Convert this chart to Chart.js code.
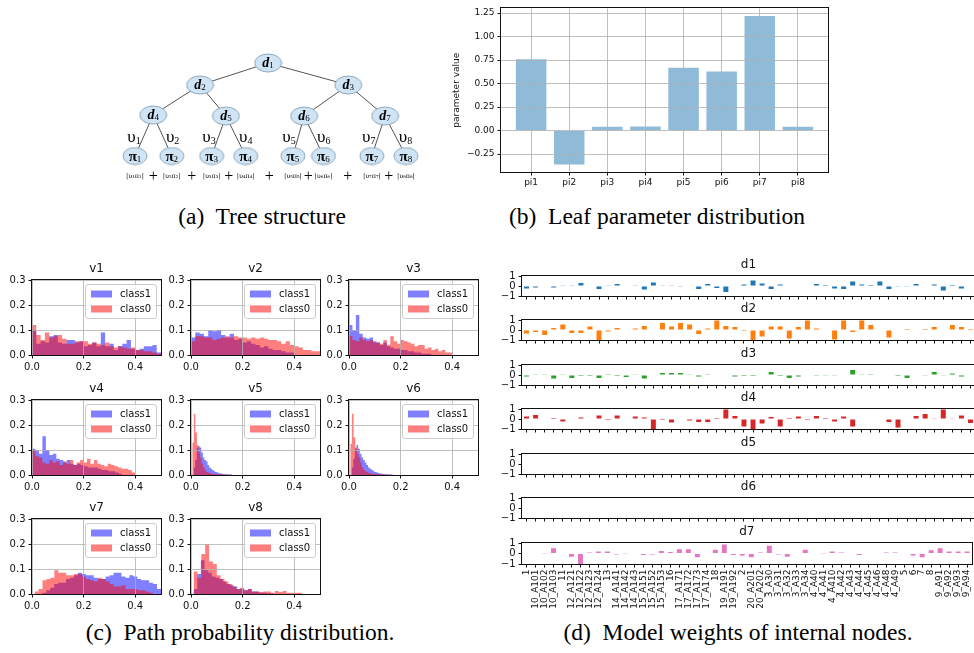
<!DOCTYPE html>
<html>
<head>
<meta charset="utf-8">
<script src="https://cdn.jsdelivr.net/npm/chart.js@4.4.1/dist/chart.umd.min.js"></script>
<style>
  html, body { margin: 0; padding: 0; background: #fff; }
  #page { position: relative; width: 974px; height: 653px; overflow: hidden; background: #fff; }
  .caption { position: absolute; font-family: "Liberation Serif", serif; font-size: 23.5px; line-height: 26px;
             color: #000; white-space: nowrap; transform: translateX(-50%); }
</style>
</head>
<body>
<div id="page">
  <div class="caption" style="left:262px; top:203px">(a)&nbsp; Tree structure</div>
  <div class="caption" style="left:657px; top:203px">(b)&nbsp; Leaf parameter distribution</div>
  <div class="caption" style="left:240px; top:619px">(c)&nbsp; Path probability distribution.</div>
  <div class="caption" style="left:738px; top:619px">(d)&nbsp; Model weights of internal nodes.</div>
</div>
<script>
// ---------- (a) tree ----------
const treeLabels = ['d1', 'd2', 'd3', 'd4', 'd5', 'd6', 'd7', 'π1', 'π2', 'π3', 'π4', 'π5', 'π6', 'π7', 'π8']
const treeX = [3.44, 1.68, 5.51, 0.47, 2.35, 4.37, 6.46, 0, 0.95, 1.98, 2.86, 4.08, 4.87, 6.12, 7.0]
const treeY = [93, 71, 71, 41, 40, 40, 40, 0, 0, 0, 0, 0, 0, 0, 0]
const treeParent = [-1, 0, 0, 1, 1, 2, 2, 3, 3, 4, 4, 5, 5, 6, 6]
const pathTerms = ['|υ₁π₁|', '|υ₂π₂|', '|υ₃π₃|', '|υ₄π₄|', '|υ₅π₅|', '|υ₆π₆|', '|υ₇π₇|', '|υ₈π₈|']

// ---------- (b) leaf parameters ----------
const leafLabels = ['pi1', 'pi2', 'pi3', 'pi4', 'pi5', 'pi6', 'pi7', 'pi8']
const leafValues = [0.76, -0.36, 0.04, 0.045, 0.67, 0.63, 1.22, 0.04]

// ---------- (c) path probability histograms ----------
const histNames = ['v1', 'v2', 'v3', 'v4', 'v5', 'v6', 'v7', 'v8']
const v1_class1 = [0.10, 0.045, 0.055, 0.05, 0.075, 0.08, 0.05, 0.045, 0.06, 0.06, 0.05, 0.055, 0.035, 0.04, 0.05, 0.035, 0.09, 0.035, 0.045, 0.02, 0.035, 0.045, 0.06, 0.025, 0.02, 0.025, 0.035, 0.035, 0.04, 0.01]
const v1_class0 = [0.12, 0.08, 0.06, 0.09, 0.07, 0.075, 0.08, 0.065, 0.045, 0.045, 0.055, 0.055, 0.055, 0.045, 0.05, 0.045, 0.04, 0.05, 0.035, 0.03, 0.035, 0.03, 0.025, 0.03, 0.02, 0.02, 0.015, 0.015, 0.01, 0.005]
const v1_range1 = [0.0, 0.5], v1_range0 = [0.0, 0.5]
const v2_class1 = [0.07, 0.09, 0.085, 0.075, 0.1, 0.095, 0.1, 0.08, 0.07, 0.085, 0.06, 0.065, 0.05, 0.055, 0.045, 0.04, 0.03, 0.035, 0.025, 0.02, 0.02, 0.015, 0.01, 0.01]
const v2_class0 = [0.055, 0.075, 0.075, 0.07, 0.07, 0.06, 0.065, 0.07, 0.075, 0.07, 0.075, 0.07, 0.07, 0.065, 0.07, 0.065, 0.07, 0.065, 0.06, 0.06, 0.055, 0.045, 0.055, 0.04, 0.035, 0.03, 0.02, 0.02, 0.015, 0.015]
const v2_range1 = [0.0, 0.4], v2_range0 = [0.0, 0.5]
const v3_class1 = [0.12, 0.1, 0.16, 0.085, 0.07, 0.065, 0.07, 0.055, 0.05, 0.04, 0.05, 0.035, 0.03, 0.025, 0.025, 0.02, 0.02, 0.015, 0.015, 0.01, 0.01, 0.005, 0.005, 0.005]
const v3_class0 = [0.075, 0.06, 0.055, 0.07, 0.06, 0.055, 0.06, 0.05, 0.05, 0.045, 0.06, 0.04, 0.075, 0.055, 0.045, 0.06, 0.055, 0.05, 0.045, 0.035, 0.04, 0.04, 0.025, 0.03, 0.02, 0.025, 0.015, 0.02, 0.01, 0.01]
const v3_range1 = [0.0, 0.32], v3_range0 = [0.0, 0.4]
const v4_class1 = [0.105, 0.1, 0.085, 0.155, 0.1, 0.08, 0.085, 0.065, 0.06, 0.05, 0.06, 0.045, 0.04, 0.045, 0.04, 0.035, 0.03, 0.03, 0.03, 0.025, 0.02, 0.02, 0.015, 0.015, 0.01, 0.005]
const v4_class0 = [0.1, 0.075, 0.07, 0.05, 0.045, 0.06, 0.05, 0.055, 0.04, 0.055, 0.045, 0.06, 0.04, 0.05, 0.06, 0.05, 0.065, 0.045, 0.06, 0.045, 0.04, 0.035, 0.045, 0.04, 0.035, 0.03, 0.025, 0.025, 0.02, 0.01]
const v4_range1 = [0.0, 0.35], v4_range0 = [0.0, 0.4]
const v5_class1 = [0.03, 0.06, 0.11, 0.115, 0.11, 0.09, 0.07, 0.06, 0.055, 0.04, 0.03, 0.025, 0.02, 0.015, 0.012, 0.01, 0.008, 0.006, 0.005, 0.004, 0.003, 0.003, 0.002, 0.002, 0.002]
const v5_class0 = [0.13, 0.245, 0.17, 0.12, 0.09, 0.07, 0.045, 0.03, 0.02, 0.012, 0.01, 0.008, 0.005, 0.005, 0.004, 0.003, 0.003, 0.002, 0.003, 0.002, 0.001, 0.002, 0.001, 0.001, 0.002]
const v5_range1 = [0.01, 0.16], v5_range0 = [0.005, 0.155]
const v6_class1 = [0.03, 0.065, 0.105, 0.12, 0.105, 0.085, 0.07, 0.06, 0.05, 0.04, 0.03, 0.025, 0.02, 0.015, 0.012, 0.01, 0.008, 0.006, 0.005, 0.004, 0.003, 0.003, 0.002, 0.002, 0.002]
const v6_class0 = [0.125, 0.245, 0.15, 0.11, 0.085, 0.07, 0.05, 0.03, 0.02, 0.015, 0.012, 0.008, 0.006, 0.005, 0.004, 0.004, 0.003, 0.003, 0.002, 0.002, 0.002, 0.001, 0.001, 0.001, 0.002]
const v6_range1 = [0.01, 0.17], v6_range0 = [0.005, 0.165]
const v7_class1 = [0.005, 0.015, 0.025, 0.04, 0.045, 0.045, 0.06, 0.065, 0.075, 0.085, 0.08, 0.075, 0.075, 0.065, 0.06, 0.06, 0.07, 0.075, 0.085, 0.085, 0.07, 0.065, 0.075, 0.07, 0.06, 0.055, 0.055, 0.045, 0.04, 0.02]
const v7_class0 = [0.01, 0.02, 0.055, 0.06, 0.065, 0.095, 0.085, 0.085, 0.075, 0.075, 0.08, 0.08, 0.07, 0.06, 0.055, 0.05, 0.065, 0.06, 0.05, 0.04, 0.03, 0.03, 0.035, 0.02, 0.02, 0.02, 0.015, 0.015, 0.01, 0.005]
const v7_range1 = [0.04, 0.5], v7_range0 = [0.01, 0.47]
const v8_class1 = [0.02, 0.08, 0.135, 0.095, 0.085, 0.07, 0.065, 0.06, 0.05, 0.04, 0.035, 0.03, 0.02, 0.02, 0.015, 0.02, 0.01, 0.01, 0.005, 0.005, 0.003, 0.003]
const v8_class0 = [0.09, 0.065, 0.16, 0.2, 0.13, 0.12, 0.075, 0.06, 0.05, 0.04, 0.03, 0.02, 0.025, 0.015, 0.02, 0.01, 0.01, 0.008, 0.01, 0.01, 0.005, 0.012, 0.008, 0.012, 0.005, 0.005, 0.005, 0.005]
const v8_range1 = [0.01, 0.32], v8_range0 = [0.01, 0.43]

// ---------- (d) model weights ----------
const featureNames = ['1', '10_A101', '10_A102', '10_A103', '11', '12_A121', '12_A122', '12_A123', '12_A124', '13',
  '14_A141', '14_A142', '14_A143', '15_A151', '15_A152', '15_A153', '16', '17_A171', '17_A172', '17_A173',
  '17_A174', '18', '19_A191', '19_A192', '2', '20_A201', '20_A202', '3_A30', '3_A31', '3_A32',
  '3_A33', '3_A34', '4_A40', '4_A41', '4_A410', '4_A42', '4_A43', '4_A44', '4_A45', '4_A46',
  '4_A48', '4_A49', '5', '6', '7', '8', '9_A91', '9_A92', '9_A93', '9_A94']
const nodeNames = ['d1', 'd2', 'd3', 'd4', 'd5', 'd6', 'd7']
const d1Weights = [-0.25, -0.15, 0, -0.15, 0.07, 0.07, 0.3, 0, -0.3, 0.03, 0.2, 0, 0.03, -0.35, 0.35, 0.03, 0.03, -0.03, 0, -0.3,
  0.2, -0.2, -0.6, 0, 0.15, 0.55, 0.25, -0.3, 0.15, 0.05, 0.05, -0.05, 0.2, 0.1, -0.25, -0.3, 0.45, 0.15, 0.1, 0.45,
  -0.3, -0.03, -0.07, 0.2, 0, 0.15, -0.45, 0.1, -0.25, 0.05]
const d2Weights = [-0.35, -0.2, -0.5, 0.2, 0.55, -0.3, -0.3, 0.35, -1.0, -0.15, 0.2, 0.05, 0.15, 0.4, 0, 0.7, 0.35, 0.7, 0.55, -0.4,
  0.15, 0.95, 0.4, 0.3, -0.1, -1.0, -0.65, 0.35, 0.35, -0.85, 0.3, 0.95, 0.15, 0, -0.95, 0.95, -0.2, 0.95, 0.5, 0,
  -0.75, -0.05, 0.1, 0, 0.1, 0.3, 0, 0.5, 0.3, 0.1]
const d3Weights = [-0.15, 0.03, 0.03, -0.35, 0.03, -0.3, -0.1, -0.1, -0.3, 0.02, -0.1, -0.2, 0.03, -0.35, 0, 0.2, 0.2, 0.2, 0.03, -0.15,
  0.02, 0, 0, -0.15, -0.1, -0.1, 0, 0.3, -0.1, -0.3, -0.15, 0, -0.02, -0.03, -0.03, -0.05, 0.5, 0.03, 0.02, 0,
  0, -0.1, -0.3, -0.05, -0.03, 0.3, -0.03, 0.15, -0.15, 0]
const d4Weights = [0.25, 0.4, 0, 0.1, -0.25, 0, 0.15, 0, 0.35, -0.1, 0.35, 0, 0.25, 0.15, -1.0, -0.1, -0.35, -0.05, -0.15, -0.3,
  -0.3, 0.1, 0.95, 0.3, -0.75, -1.0, -0.45, 0.2, -0.75, 0.1, 0.25, -0.1, 0.3, 0.1, -0.25, 0.25, -0.75, 0, 0, 0.05,
  -0.3, -0.85, 0, 0.3, 0.5, 0.03, 0.95, 0.03, 0.35, -0.4]
const d5Weights = [0, 0, 0, 0, 0, 0.05, 0, 0.05, 0, 0, 0, 0, 0, 0, 0, 0, 0, 0, 0, 0,
  0, 0, 0, 0, 0, 0.05, 0.05, 0, 0, 0, 0, 0, 0, 0, 0.05, 0, 0, 0, 0, 0,
  0, 0.05, 0, 0, 0, 0, 0, 0, 0, 0]
const d6Weights = [0, 0, 0, 0, 0, 0, 0, 0, 0, 0, 0, 0, 0, 0, 0, 0, 0, 0, 0, 0,
  0, 0, 0, 0, 0, 0, 0, 0, 0, 0, 0, 0, 0, 0, 0, 0, 0, 0, 0, 0,
  0, 0, 0, 0, 0, 0, 0, 0, 0, 0]
const d7Weights = [0, 0, 0.03, 0.5, -0.05, -0.3, -1.0, 0.1, 0.2, 0.2, -0.1, 0.03, 0, -0.15, -0.1, 0.25, 0.15, 0.4, 0.4, -0.35,
  -0.05, 0.35, 0.85, -0.15, -0.2, -0.35, 0.1, 0.75, -0.1, -0.3, -0.05, 0.35, -0.05, 0.03, 0.2, 0.1, 0, -0.15, -0.05, -0.05,
  0.1, 0.1, 0, -0.2, -0.35, 0.3, 0.5, 0.2, 0.2, 0.2]

const tab10 = ['#1f77b4', '#ff7f0e', '#2ca02c', '#d62728', '#9467bd', '#8c564b', '#e377c2']

Chart.defaults.font.family = '"DejaVu Sans", sans-serif'
Chart.defaults.color = '#111'
Chart.defaults.animation = false
Chart.defaults.events = []
Chart.defaults.responsive = false
Chart.defaults.layout.autoPadding = false
Chart.defaults.plugins.legend.display = false
Chart.defaults.plugins.tooltip.enabled = false

const page = document.getElementById('page')
function makeCanvas(left, top, width, height) {
    const c = document.createElement('canvas')
    c.width = width
    c.height = height
    c.style.position = 'absolute'
    c.style.left = left + 'px'
    c.style.top = top + 'px'
    c.style.width = width + 'px'
    c.style.height = height + 'px'
    page.appendChild(c)
    return c
}

// frame round the plotting area, like matplotlib spines
const chartAreaBorder = {
    id: 'chartAreaBorder',
    afterDraw(chart) {
        const { ctx, chartArea: { left, top, right, bottom } } = chart
        ctx.save()
        ctx.strokeStyle = '#111'
        ctx.lineWidth = 1
        ctx.strokeRect(Math.floor(left) - 0.5, Math.floor(top) - 0.5, Math.round(right - left) + 1, Math.round(bottom - top) + 1)
        ctx.restore()
    }
}

function roundedRect(ctx, x, y, w, h, r) {
    ctx.beginPath()
    ctx.moveTo(x + r, y)
    ctx.arcTo(x + w, y, x + w, y + h, r)
    ctx.arcTo(x + w, y + h, x, y + h, r)
    ctx.arcTo(x, y + h, x, y, r)
    ctx.arcTo(x, y, x + w, y, r)
    ctx.closePath()
}

// matplotlib-like legend in the upper right of the plot area
const histLegend = {
    id: 'histLegend',
    afterDraw(chart) {
        const { ctx, chartArea } = chart
        const sets = chart.data.datasets
        ctx.save()
        ctx.font = '10px "DejaVu Sans"'
        const textW = Math.max(...sets.map(d => ctx.measureText(d.label).width))
        const w = Math.round(6 + 21 + 8 + textW + 5), h = 34
        const x0 = Math.round(chartArea.right - 5 - w), y0 = Math.round(chartArea.top + 4)
        roundedRect(ctx, x0 + 0.5, y0 + 0.5, w, h, 2.5)
        ctx.fillStyle = 'rgba(255,255,255,0.8)'
        ctx.fill()
        ctx.strokeStyle = '#cccccc'
        ctx.lineWidth = 1
        ctx.stroke()
        sets.forEach((d, i) => {
            const cy = y0 + 10 + i * 15
            ctx.fillStyle = d.backgroundColor
            ctx.fillRect(x0 + 6, cy - 3.5, 21, 7)
            ctx.fillStyle = '#111'
            ctx.textBaseline = 'middle'
            ctx.textAlign = 'left'
            ctx.fillText(d.label, x0 + 35, cy)
        })
        ctx.restore()
    }
}

// ---------- (a) ----------
function drawSub(ctx, base, sub, cx, cy, font, subFont, drop) {
    ctx.font = font
    const wb = ctx.measureText(base).width
    ctx.font = subFont
    const ws = ctx.measureText(sub).width
    const x0 = cx - (wb + ws) / 2
    ctx.textAlign = 'left'
    ctx.textBaseline = 'middle'
    ctx.font = font
    ctx.fillText(base, x0, cy)
    ctx.font = subFont
    ctx.fillText(sub, x0 + wb, cy + drop)
}

function ellipseImage(w, h) {
    const c = document.createElement('canvas')
    c.width = w
    c.height = h
    const g = c.getContext('2d')
    g.beginPath()
    g.ellipse(w / 2, h / 2, w / 2 - 1, h / 2 - 1, 0, 0, Math.PI * 2)
    g.fillStyle = '#cfe4f4'
    g.fill()
    g.strokeStyle = '#8ea6b8'
    g.lineWidth = 1
    g.stroke()
    return c
}
const ellipseD = ellipseImage(29, 20)
const ellipsePi = ellipseImage(26, 19)

const treeText = {
    id: 'treeText',
    afterDatasetsDraw(chart) {
        const { ctx, scales: { x, y } } = chart
        ctx.save()
        ctx.fillStyle = '#000'
        treeLabels.forEach((lab, i) => {
            const px = x.getPixelForValue(treeX[i]), py = y.getPixelForValue(treeY[i])
            if (lab[0] == 'd') {
                drawSub(ctx, 'd', lab.slice(1), px, py, 'italic bold 14px "Liberation Serif"', '9px "Liberation Serif"', 3)
            } else {
                drawSub(ctx, 'π', lab.slice(1), px, py + 1, 'bold 15px "Liberation Serif"', '9px "Liberation Serif"', 3)
            }
        })
        // path labels next to the leaf edges
        const ly = y.getPixelForValue(18)
        for (let k = 0; k < 8; k++) {
            const leaf = 7 + k, par = treeParent[leaf]
            const x0 = x.getPixelForValue(treeX[par]), y0 = y.getPixelForValue(treeY[par])
            const x1 = x.getPixelForValue(treeX[leaf]), y1 = y.getPixelForValue(treeY[leaf])
            const ex = x0 + (ly - y0) / (y1 - y0) * (x1 - x0)
            const side = k % 2 == 0 ? -1 : 1
            drawSub(ctx, 'υ', String(k + 1), ex + side * 9, ly, '17px "Liberation Serif"', '10px "Liberation Serif"', 3)
        }
        // |v pi| terms under the leaves, joined by +
        const ty = y.getPixelForValue(-20)
        ctx.textAlign = 'center'
        ctx.textBaseline = 'middle'
        for (let k = 0; k < 8; k++) {
            const px = x.getPixelForValue(treeX[7 + k])
            ctx.font = '6.5px "DejaVu Serif"'
            ctx.fillText(pathTerms[k], px, ty)
            if (k < 7) {
                const nx = x.getPixelForValue(treeX[8 + k])
                ctx.font = '16px "Liberation Serif"'
                ctx.fillText('+', (px + nx) / 2, ty + 1)
            }
        }
        ctx.restore()
    }
}

const treeEdges = []
treeParent.forEach((p, i) => {
    if (p < 0) return
    treeEdges.push({ x: treeX[p], y: treeY[p] }, { x: treeX[i], y: treeY[i] }, { x: treeX[i], y: null })
})

new Chart(makeCanvas(100, 40, 340, 150), {
    type: 'scatter',
    data: {
        datasets: [
            { data: treeEdges, showLine: true, spanGaps: false, borderColor: '#555', borderWidth: 1, pointRadius: 0, order: 2 },
            {
                data: treeX.map((v, i) => ({ x: v, y: treeY[i] })),
                pointStyle: (c) => c.dataIndex < 7 ? ellipseD : ellipsePi,
                pointRadius: 10, order: 1
            }
        ]
    },
    options: {
        layout: { padding: 0, autoPadding: false },
        scales: {
            x: { type: 'linear', display: false, min: -0.904, max: 7.881 },
            y: { type: 'linear', display: false, min: -34, max: 116 }
        }
    },
    plugins: [treeText]
})

// ---------- (b) ----------
new Chart(makeCanvas(440, 0, 400, 195), {
    type: 'bar',
    data: {
        datasets: [{
            data: leafValues.map((v, i) => ({ x: i, y: v })),
            backgroundColor: 'rgba(31,119,180,0.5)',
            borderWidth: 0,
            barPercentage: 0.8,
            categoryPercentage: 1
        }]
    },
    options: {
        layout: { padding: { top: 6, right: 12, left: 0, bottom: 0 } },
        scales: {
            x: {
                type: 'linear', min: -0.79, max: 7.79, offset: false,
                ticks: { stepSize: 1, includeBounds: false, autoSkip: false, padding: 2, font: { size: 9 },
                    callback: function (value) { return leafLabels[value] ?? '' } },
                grid: { color: '#b0b0b0', lineWidth: 0.8, z: 1, offset: false, tickLength: 3.5, tickColor: '#111', tickWidth: 1 },
                border: { display: false },
                afterFit: function (s) { s.height = 23 }
            },
            y: {
                type: 'linear', min: -0.44, max: 1.30,
                ticks: { stepSize: 0.25, includeBounds: false, autoSkip: false, padding: 3, font: { size: 9 },
                    callback: function (value) { return value.toFixed(2).replace('-', '−') } },
                grid: { color: '#b0b0b0', lineWidth: 0.8, z: 1, tickLength: 3.5, tickColor: '#111', tickWidth: 1 },
                border: { display: false },
                title: { display: true, text: 'parameter value', font: { size: 9 }, padding: { top: 11, bottom: 0 } },
                afterFit: function (s) { s.width = 61 }
            }
        }
    },
    plugins: [chartAreaBorder]
})

// ---------- (c) ----------
function histPoints(values, range) {
    const w = (range[1] - range[0]) / values.length
    const pts = values.map((v, i) => ({ x: range[0] + i * w, y: v }))
    pts.push({ x: range[1], y: 0 })
    return pts
}

const histData = [
    [v1_class1, v1_range1, v1_class0, v1_range0],
    [v2_class1, v2_range1, v2_class0, v2_range0],
    [v3_class1, v3_range1, v3_class0, v3_range0],
    [v4_class1, v4_range1, v4_class0, v4_range0],
    [v5_class1, v5_range1, v5_class0, v5_range0],
    [v6_class1, v6_range1, v6_class0, v6_range0],
    [v7_class1, v7_range1, v7_class0, v7_range0],
    [v8_class1, v8_range1, v8_class0, v8_range0]
]
const histLeft = [32, 191, 349]
const histTop = [280, 400, 519]

histNames.forEach((name, i) => {
    const left = histLeft[i % 3], top = histTop[Math.floor(i / 3)]
    const [c1, r1, c0, r0] = histData[i]
    new Chart(makeCanvas(left - 32, top - 20, 167, 113), {
        type: 'line',
        data: {
            datasets: [
                { label: 'class1', data: histPoints(c1, r1), backgroundColor: 'rgba(0,0,255,0.5)', fill: 'origin', stepped: true, order: 1 },
                { label: 'class0', data: histPoints(c0, r0), backgroundColor: 'rgba(255,0,0,0.5)', fill: 'origin', stepped: true, order: 0 }
            ]
        },
        options: {
            elements: { line: { borderWidth: 0, borderColor: 'rgba(0,0,0,0)' }, point: { radius: 0 } },
            layout: { padding: { top: 0, right: 6, left: 0, bottom: 0 } },
            plugins: {
                title: { display: true, text: name, fullSize: false, color: '#111', font: { size: 12, weight: 'normal' }, padding: { top: 2, bottom: 3.6 } }
            },
            scales: {
                x: {
                    type: 'linear', min: 0, max: 0.5,
                    ticks: { stepSize: 0.2, includeBounds: false, autoSkip: false, padding: 3, font: { size: 10 },
                        callback: function (value) { return value.toFixed(1) } },
                    grid: { color: '#b0b0b0', lineWidth: 0.8, z: 1, tickLength: 3.5, tickColor: '#111', tickWidth: 1 },
                    border: { display: false },
                    afterFit: function (s) { s.height = 18 }
                },
                y: {
                    type: 'linear', min: 0, max: 0.3,
                    ticks: { stepSize: 0.1, autoSkip: false, padding: 3, font: { size: 10 },
                        callback: function (value) { return value.toFixed(1) } },
                    grid: { color: '#b0b0b0', lineWidth: 0.8, z: 1, tickLength: 3.5, tickColor: '#111', tickWidth: 1 },
                    border: { display: false },
                    afterFit: function (s) { s.width = 32 }
                }
            }
        },
        plugins: [chartAreaBorder, histLegend]
    })
})

// ---------- (d) ----------
const nodeWeights = [d1Weights, d2Weights, d3Weights, d4Weights, d5Weights, d6Weights, d7Weights]
const weightTop = [276, 320, 365, 409, 454, 498, 543]

nodeNames.forEach((name, k) => {
    const last = k == nodeNames.length - 1
    const axisH = last ? 52 : 8
    new Chart(makeCanvas(490, weightTop[k] - 20, 490, 20 + 21 + axisH), {
        type: 'bar',
        data: {
            labels: featureNames,
            datasets: [{
                data: nodeWeights[k],
                backgroundColor: tab10[k],
                borderWidth: 0,
                barPercentage: 0.55,
                categoryPercentage: 1
            }]
        },
        options: {
            layout: { padding: { top: 0, right: 5, left: 0, bottom: 0 } },
            plugins: {
                title: { display: true, text: name, fullSize: false, color: '#111', font: { size: 12, weight: 'normal' }, padding: { top: 2, bottom: 3.6 } }
            },
            scales: {
                x: {
                    offset: true,
                    ticks: { display: last, autoSkip: false, minRotation: 90, maxRotation: 90, padding: 2, font: { size: 9 } },
                    grid: { display: true, drawOnChartArea: false, offset: false, tickLength: 3.5, tickColor: '#111', tickWidth: 1 },
                    border: { display: false },
                    afterFit: function (s) { s.height = axisH }
                },
                y: {
                    min: -1, max: 1,
                    ticks: { stepSize: 1, autoSkip: false, padding: 3, font: { size: 10 },
                        callback: function (value) { return String(value).replace('-', '−') } },
                    grid: { display: true, drawOnChartArea: false, tickLength: 3.5, tickColor: '#111', tickWidth: 1 },
                    border: { display: false },
                    afterFit: function (s) { s.width = 32 }
                }
            }
        },
        plugins: [chartAreaBorder]
    })
})
</script>
</body>
</html>
